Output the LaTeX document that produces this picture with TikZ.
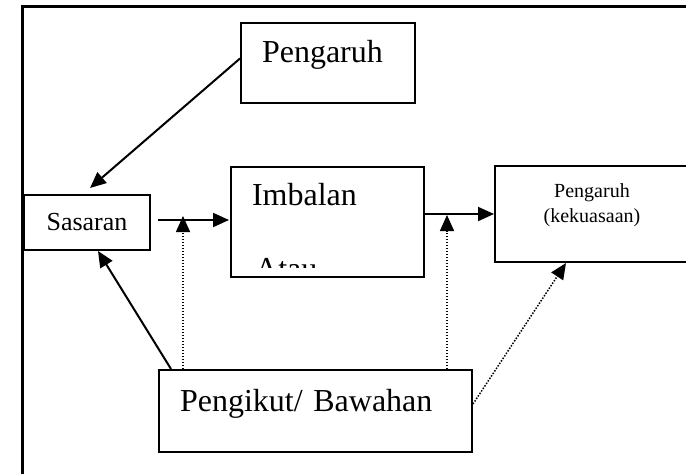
\documentclass[tikz,border=0pt]{standalone}
\usepackage{fontspec}
\setmainfont{Liberation Serif}
\usetikzlibrary{arrows.meta}

\tikzstyle{box}=[draw,rectangle,line width=2pt,inner sep=0pt]
\tikzstyle{big}=[font=\fontsize{32}{38}\selectfont]
\tikzstyle{arr}=[line width=2pt,-{Triangle[length=16pt,width=14pt]}]
\tikzstyle{dotarr}=[line width=1.5pt,dash pattern=on 1.5pt off 1.5pt,-{Triangle[length=16pt,width=14pt]}]

\begin{document}
\begin{tikzpicture}[x=1pt,y=-1pt]
    \useasboundingbox (0,0) rectangle (686,474);
    \draw[line width=2.2pt] (22.5,474) -- (22.5,6.5) -- (686,6.5);

    \node[box,big,minimum width=174pt,minimum height=80pt,text width=132pt,align=left,text height=22pt,text depth=22pt] (peng) at (328,62.5) {Pengaruh};
    \node[box,font=\fontsize{26}{31}\selectfont,minimum width=126pt,minimum height=55pt] (sas) at (87,222.5) {Sasaran};
    \node[box,big,minimum width=193pt,minimum height=110pt,text width=151pt,align=left,text height=22pt,text depth=56pt] (imb) at (327.5,222) {Imbalan};
    \node[box,font=\fontsize{20}{25}\selectfont,minimum width=194pt,minimum height=96pt,align=center,text height=30pt,text depth=14pt] (pwr) at (592,214) {Pengaruh\\(kekuasaan)};
    \node[box,big,minimum width=313pt,minimum height=82pt,text width=271pt,align=left,text height=22pt,text depth=22pt] (pen) at (315.5,411) {Pengikut/ Bawahan};

    \begin{scope}
        \clip (231,167) rectangle (424,267);
        \node[big,anchor=base west,inner sep=0pt] (atau) at (255,279) {Atau};
    \end{scope}

    \coordinate (j1) at (183,216);
    \coordinate (j2) at (447,215);

    \draw[arr] ([yshift=4pt]peng.west) -- ([xshift=3pt,yshift=6pt]sas.north);
    \draw[arr] ([xshift=7pt,yshift=2.5pt]sas.east) -- ([xshift=-1pt,yshift=2pt]imb.west);
    \draw[arr] ([yshift=8pt]imb.east) -- (pwr.west);
    \draw[arr] ([xshift=13pt]pen.north west) -- ([xshift=11pt]sas.south);
    \draw[dotarr] (pen.north -| j1) -- (j1);
    \draw[dotarr] (pen.north -| j2) -- (j2);
    \draw[dotarr] ([yshift=7pt]pen.east) -- ([xshift=-26pt]pwr.south);
\end{tikzpicture}
\end{document}
